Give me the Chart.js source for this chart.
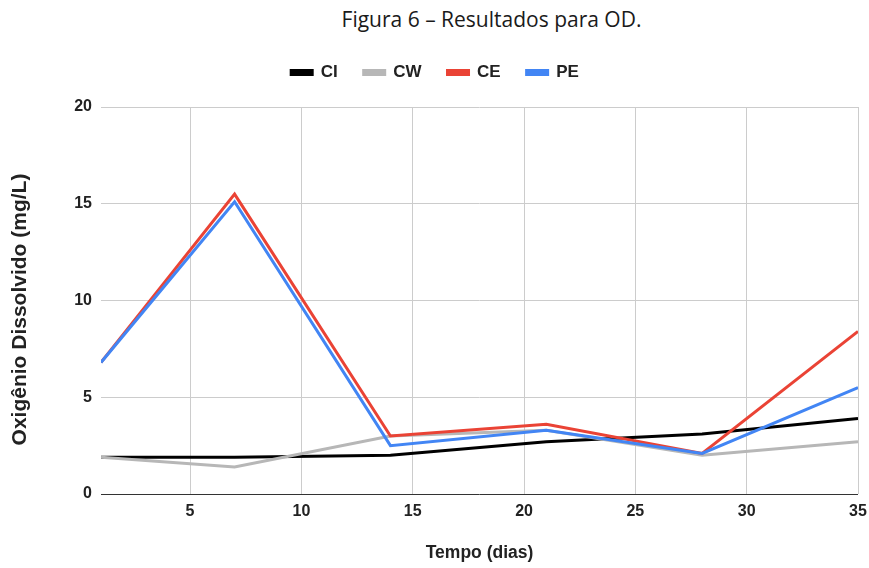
<!DOCTYPE html>
<html>
<head>
<meta charset="utf-8">
<script src="https://cdn.jsdelivr.net/npm/chart.js@4/dist/chart.umd.min.js"></script>
<style>
  html, body { margin: 0; padding: 0; background: #fff; }
  #wrap { position: relative; width: 869px; height: 568px; }
  #fig-title {
    position: absolute; left: 0; top: 5px; width: 983px; text-align: center; line-height: normal;
    font-family: "Open Sans", "Liberation Sans", sans-serif; font-size: 21px; color: #1a1a1a;
  }
  canvas { position: absolute; left: 0; top: 0; }
</style>
</head>
<body>
<div id="wrap">
  <div id="fig-title">Figura 6 – Resultados para OD.</div>
  <canvas id="chart" width="869" height="568"></canvas>
</div>
<script>
// Sampling days and dissolved-oxygen readings (mg/L) per treatment
const days = [1, 7, 14, 21, 28, 35];
const seriesCI = [1.9, 1.9, 2.0, 2.7, 3.1, 3.9];
const seriesCW = [1.9, 1.4, 3.0, 3.3, 2.0, 2.7];
const seriesCE = [6.8, 15.5, 3.0, 3.6, 2.1, 8.4];
const seriesPE = [6.8, 15.1, 2.5, 3.3, 2.1, 5.5];
const xTicks = [5, 10, 15, 20, 25, 30, 35];
const yTicks = [0, 5, 10, 15, 20];

const pts = (vals) => days.map((d, i) => ({ x: d, y: vals[i] }));

const line = (label, vals, color, order) => ({
  label, data: pts(vals), borderColor: color, backgroundColor: color,
  borderWidth: 3, pointRadius: 0, tension: 0, order
});

// Fixed legend band so the plot area starts at the same height every time,
// with the row of legend items nudged a little to the right
const legendBand = {
  id: 'legendBand',
  beforeInit(chart) {
    const fit = chart.legend.fit;
    chart.legend.fit = function () { fit.call(this); this.height = 69; };
  },
  afterLayout(chart) {
    chart.legend.left += 6;
    chart.legend.right += 6;
  }
};

// Moves the vertical axis title slightly below the centre of the axis
const yTitleOffset = {
  id: 'yTitleOffset',
  beforeDraw(chart) {
    const s = chart.scales.y;
    if (!s || s._offsetTitle) return;
    const draw = s.drawTitle;
    s.drawTitle = function () {
      this.ctx.save();
      this.ctx.translate(0, 9);
      draw.call(this);
      this.ctx.restore();
    };
    s._offsetTitle = true;
  }
};

const FONT = '"Liberation Sans", Arial, sans-serif';
const tickFont = { family: FONT, size: 16, weight: 'bold' };

new Chart(document.getElementById('chart'), {
  type: 'line',
  data: {
    datasets: [
      line('CI', seriesCI, '#000000', 4),
      line('CW', seriesCW, '#b7b7b7', 3),
      line('CE', seriesCE, '#ea4335', 2),
      line('PE', seriesPE, '#4285f4', 1)
    ]
  },
  options: {
    responsive: false,
    animation: false,
    layout: { padding: { top: 38, right: 11, bottom: 0, left: 0 } },
    plugins: {
      tooltip: { enabled: false },
      legend: {
        position: 'top',
        labels: {
          sort: (a, b) => a.datasetIndex - b.datasetIndex,
          boxWidth: 21, boxHeight: 4, padding: 26,
          color: '#222',
          font: { family: FONT, size: 17, weight: 'bold' }
        }
      }
    },
    scales: {
      x: {
        type: 'linear', min: 1, max: 35,
        afterBuildTicks: (s) => { s.ticks = xTicks.map(v => ({ value: v })); },
        afterFit: (s) => { s.height = 74; s.paddingLeft = 0; s.paddingRight = 0; },
        border: { display: false },
        grid: { color: '#cccccc', lineWidth: 1, drawTicks: false },
        ticks: { padding: 8, color: '#222', font: tickFont, maxRotation: 0 },
        title: {
          display: true, text: 'Tempo (dias)', color: '#222',
          font: { family: FONT, size: 17.5, weight: 'bold' },
          padding: { top: 0, bottom: 4 }
        }
      },
      y: {
        min: 0, max: 20,
        afterBuildTicks: (s) => { s.ticks = yTicks.map(v => ({ value: v })); },
        afterFit: (s) => { s.width = 101; },
        border: { display: false },
        grid: {
          drawTicks: false, lineWidth: 1,
          color: (c) => (c.tick && c.tick.value === 0 ? '#333333' : '#cccccc')
        },
        ticks: { padding: 9, color: '#222', font: tickFont },
        title: {
          display: true, text: 'Oxigênio Dissolvido (mg/L)', color: '#222',
          font: { family: FONT, size: 21, weight: 'bold' },
          padding: { top: 8, bottom: 0 }
        }
      }
    }
  },
  plugins: [legendBand, yTitleOffset]
});
</script>
</body>
</html>
